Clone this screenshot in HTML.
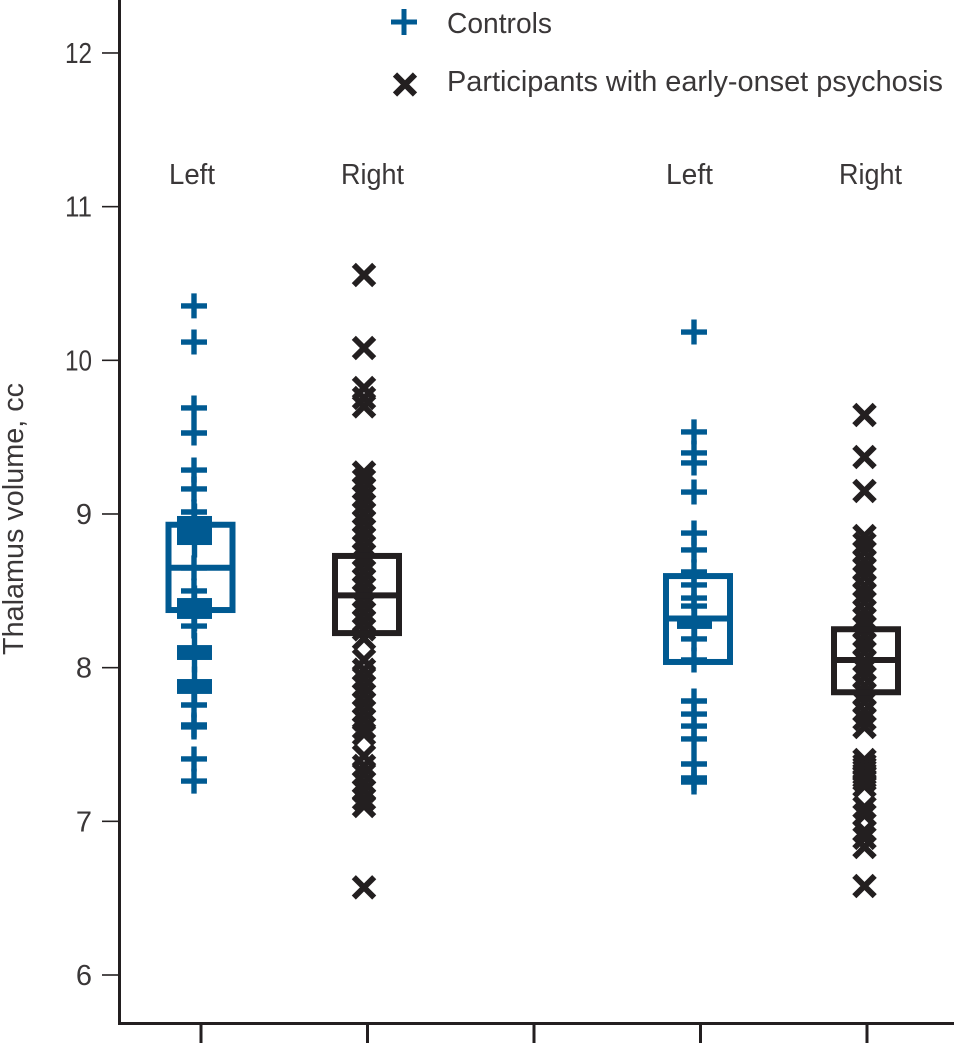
<!DOCTYPE html>
<html lang="en">
<head>
<meta charset="utf-8">
<title>Thalamus volume chart</title>
<style>
html,body{margin:0;padding:0;background:#fff;width:954px;height:1044px;overflow:hidden}
svg{display:block}
text{font-family:"Liberation Sans",sans-serif;fill:#3a3738;font-size:29px}
</style>
</head>
<body>
<svg id="chart" xmlns="http://www.w3.org/2000/svg" width="954" height="1044" viewBox="0 0 954 1044">
  <rect width="954" height="1044" fill="#fff"/>
  <text transform="translate(23,655) rotate(-90)" textLength="272" lengthAdjust="spacingAndGlyphs">Thalamus volume, cc</text>
  <g>
    <g>
      <path d="M391 22H417M404 9V35" stroke="#005a92" stroke-width="5" fill="none"/>
      <text x="447" y="33" textLength="105" lengthAdjust="spacingAndGlyphs">Controls</text>
    </g>
    <g>
      <path d="M395 74.5L415 94.5M415 74.5L395 94.5" stroke="#231f20" stroke-width="6" fill="none"/>
      <text x="447" y="91" textLength="496" lengthAdjust="spacingAndGlyphs">Participants with early-onset psychosis</text>
    </g>
  </g>
  <text x="169" y="184" textLength="46" lengthAdjust="spacingAndGlyphs">Left</text>
  <text x="341" y="184" textLength="63" lengthAdjust="spacingAndGlyphs">Right</text>
  <text x="666" y="184" textLength="47" lengthAdjust="spacingAndGlyphs">Left</text>
  <text x="839" y="184" textLength="63" lengthAdjust="spacingAndGlyphs">Right</text>
</svg>
<script>
var yTickValues = [6, 7, 8, 9, 10, 11, 12];
var xTickSlots = [0, 1, 2, 3, 4];

var controlsLeftA = [10.354, 10.119, 9.690, 9.527, 9.286, 9.163, 9.013, 8.649, 8.499, 8.271, 7.757, 7.627, 7.614, 7.406, 7.262];
var controlsLeftAClusters = [[8.987, 8.798], [8.453, 8.317], [8.147, 8.050], [7.926, 7.829]];
var controlsLeftABox = [8.93, 8.65, 8.375];

var patientsRightA = [10.555, 10.08, 9.82, 9.755, 9.70, 9.27, 9.22, 9.167, 9.113, 9.06, 9.005, 8.951, 8.897, 8.843, 8.789, 8.735, 8.681, 8.627, 8.573, 8.519, 8.465, 8.411, 8.357, 8.303, 8.249, 8.19, 8.05, 7.986, 7.932, 7.878, 7.824, 7.77, 7.716, 7.662, 7.608, 7.568, 7.425, 7.361, 7.307, 7.253, 7.199, 7.145, 7.10, 6.57];
var patientsRightABox = [8.727, 8.47, 8.225];

var controlsLeftB = [10.184, 9.534, 9.397, 9.332, 9.143, 8.876, 8.766, 8.623, 8.538, 8.453, 8.401, 8.187, 8.050, 7.783, 7.698, 7.620, 7.536, 7.373, 7.282, 7.256];
var controlsLeftBClusters = [[8.323, 8.252]];
var controlsLeftBBox = [8.596, 8.32, 8.037];

var patientsRightB = [9.644, 9.371, 9.150, 8.857, 8.805, 8.753, 8.694, 8.642, 8.590, 8.531, 8.479, 8.427, 8.369, 8.317, 8.265, 8.206, 8.154, 8.102, 8.043, 7.991, 7.939, 7.881, 7.829, 7.777, 7.718, 7.666, 7.614, 7.399, 7.367, 7.347, 7.328, 7.308, 7.288, 7.269, 7.23, 7.09, 7.04, 6.937, 6.892, 6.833, 6.579];
var patientsRightBBox = [8.25, 8.05, 7.84];

var BLUE = '#005a92';
var BLACK = '#231f20';
var NS = 'http://www.w3.org/2000/svg';
var svg = document.getElementById('chart');

function yScale(v) { return 975 - (v - 6) * 153.67; }
function xScale(slot) { return 201 + 166.5 * slot; }

function make(parent, tag, attrs) {
  var el = document.createElementNS(NS, tag);
  for (var k in attrs) { el.setAttribute(k, attrs[k]); }
  parent.appendChild(el);
  return el;
}

// Axes
var axes = make(svg, 'g', {});



var yAxisLine = make(axes, 'line', {x1: 119.5, y1: 0, x2: 119.5, y2: 1024, stroke: BLACK, 'stroke-width': 3});



var xAxisLine = make(axes, 'line', {x1: 118, y1: 1023.5, x2: 954, y2: 1023.5, stroke: BLACK, 'stroke-width': 3});



yTickValues.forEach(function (v) {
  var tick = make(axes, 'line', {x1: 102, y1: yScale(v), x2: 118, y2: yScale(v), stroke: BLACK, 'stroke-width': 1.6});
  
  
  var label = make(axes, 'text', {x: 92, y: yScale(v) + 10, 'text-anchor': 'end'});
  
  
  label.textContent = String(v);
  if (v >= 10) {
    label.setAttribute('textLength', '27');
    label.setAttribute('lengthAdjust', 'spacingAndGlyphs');
  }
});

xTickSlots.forEach(function (s) {
  var tick = make(axes, 'line', {x1: xScale(s), y1: 1024, x2: xScale(s), y2: 1043, stroke: BLACK, 'stroke-width': 3});
  
  
});

function drawBox(slot, offset, vals, color) {
  var cx = xScale(slot) + offset;
  var top = yScale(vals[0]), mid = yScale(vals[1]), bot = yScale(vals[2]);
  var g = make(svg, 'g', {fill: 'none', stroke: color, 'stroke-width': 6});
  
  
  var rect = make(g, 'rect', {x: cx - 32, y: top, width: 64, height: bot - top});
  
  
  var med = make(g, 'line', {x1: cx - 32, y1: mid, x2: cx + 32, y2: mid});
  
  
}

function drawPlus(cx, v) {
  var y = yScale(v);
  var p = make(svg, 'path', {d: 'M' + (cx - 13) + ' ' + y + 'H' + (cx + 13) + 'M' + cx + ' ' + (y - 12.5) + 'V' + (y + 12.5), stroke: BLUE, 'stroke-width': 5.4, fill: 'none'});
  
  
}

function drawCross(cx, v) {
  var y = yScale(v), r = 10.2;
  var p = make(svg, 'path', {d: 'M' + (cx - r) + ' ' + (y - r) + 'L' + (cx + r) + ' ' + (y + r) + 'M' + (cx + r) + ' ' + (y - r) + 'L' + (cx - r) + ' ' + (y + r), stroke: BLACK, 'stroke-width': 5.8, fill: 'none'});
  
  
}

function drawCluster(cx, range) {
  var top = yScale(range[0]), bot = yScale(range[1]);
  var r = make(svg, 'rect', {x: cx - 17.5, y: top, width: 35, height: bot - top, fill: BLUE});
  
  
  var stem = make(svg, 'line', {x1: cx, y1: top - 12.5, x2: cx, y2: bot + 12.5, stroke: BLUE, 'stroke-width': 5.4});
  
  
}

// Group 1: left, controls
controlsLeftA.forEach(function (v) { drawPlus(194, v); });
controlsLeftAClusters.forEach(function (r) { drawCluster(194.5, r); });
drawBox(0, -0.5, controlsLeftABox, BLUE);

// Group 2: right, participants
patientsRightA.forEach(function (v) { drawCross(xScale(1) - 3.5, v); });
drawBox(1, -0.5, patientsRightABox, BLACK);

// Group 3: left, controls
controlsLeftB.forEach(function (v) { drawPlus(694, v); });
controlsLeftBClusters.forEach(function (r) { drawCluster(694.5, r); });
drawBox(3, -2.5, controlsLeftBBox, BLUE);

// Group 4: right, participants
patientsRightB.forEach(function (v) { drawCross(xScale(4) - 2.5, v); });
drawBox(4, -1, patientsRightBBox, BLACK);
</script>
</body>
</html>
